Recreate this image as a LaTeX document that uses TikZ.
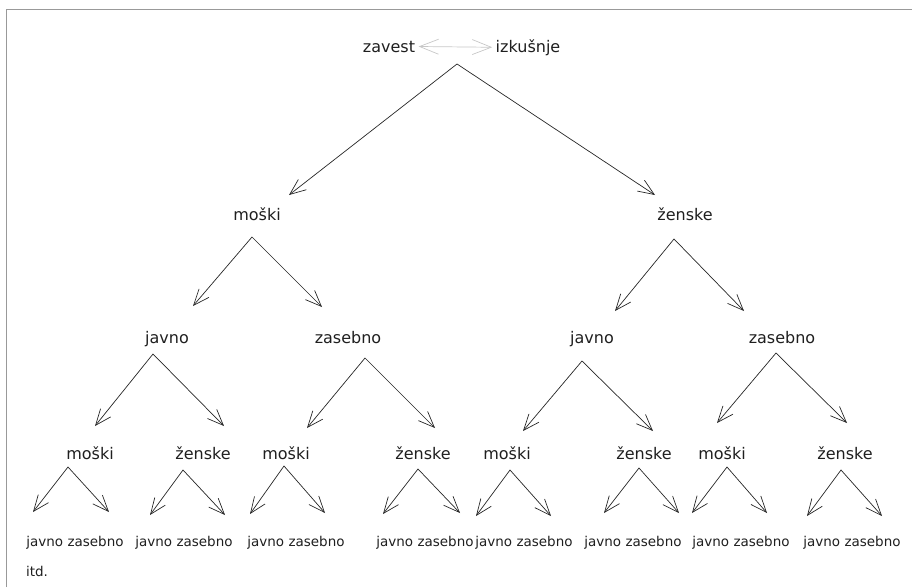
\documentclass[tikz,border=0pt]{standalone}
\usepackage{fontspec}
\setmainfont{DejaVu Sans}
\usetikzlibrary{arrows.meta}

\begin{document}
\begin{tikzpicture}[x=1pt,y=-1pt,
        word/.style={anchor=base,text=black!88,font=\fontsize{16}{19}\selectfont},
        small/.style={anchor=base,text=black!88,font=\fontsize{13.5}{16}\selectfont},
        fork/.style={{Straight Barb[length=16pt,width=13pt]}-{Straight Barb[length=16pt,width=13pt]},line width=0.7pt,black!85},
        link/.style={{Straight Barb[length=19pt,width=15pt]}-{Straight Barb[length=19pt,width=15pt]},line width=0.7pt,black!22}]
    \useasboundingbox (0,0) rectangle (912,587);
    \draw[black!40,line width=1.4pt] (6.5,587) -- (6.5,9.5) -- (912,9.5);

    % top pair
    \node[word] (zavest) at (389,52) {zavest};
    \node[word] (izkusnje) at (528,52) {izkušnje};
    \draw[link] (zavest.east) -- (izkusnje.west);

    % labels, level by level
    \node[word] (m) at (257,220) {moški};
    \node[word] (z) at (685,220) {ženske};
    \foreach \n/\x/\t in {j1/167/javno,z1/348/zasebno,j2/592/javno,z2/782/zasebno}
        \node[word] (\n) at (\x,343) {\t};
    \foreach \n/\x/\t in {a1/90/moški,a2/203/ženske,a3/286/moški,a4/423/ženske,
                          a5/507/moški,a6/644/ženske,a7/722/moški,a8/845/ženske}
        \node[word] (\n) at (\x,459) {\t};
    \foreach \n/\x in {b1/75,b2/184,b3/296,b4/425,b5/524,b6/633,b7/741,b8/852}
        \node[small] (\n) at (\x,546) {javno zasebno};
    \node[small] (itd) at (37,576) {itd.};

    % forks: apex, left tip, right tip
    \foreach \n/\ax/\ay/\lx/\ly/\rx/\ry in {
            top/457/64/289/195/655/195,
            m/252/237/193/306/322/307,
            z/674/239/615/311/744/311,
            j1/153/354/95/426/224/426,
            z1/365/358/307/428/435/428,
            j2/582/361/523/431/653/431,
            z2/776/353/717/423/847/423,
            a1/68/467/33/512/109/512,
            a2/183/470/150/515/225/515,
            a3/284/466/250/514/325/513,
            a4/418/469/383/514/460/513,
            a5/510/470/476/516/551/516,
            a6/639/468/604/513/679/513,
            a7/727/467/692/513/767/513,
            a8/841/470/807/516/882/516}{
        \coordinate (\n-apex) at (\ax,\ay);
        \coordinate (\n-l) at (\lx,\ly);
        \coordinate (\n-r) at (\rx,\ry);
        \draw[fork] (\n-l) -- (\n-apex) -- (\n-r);
    }
\end{tikzpicture}
\end{document}
